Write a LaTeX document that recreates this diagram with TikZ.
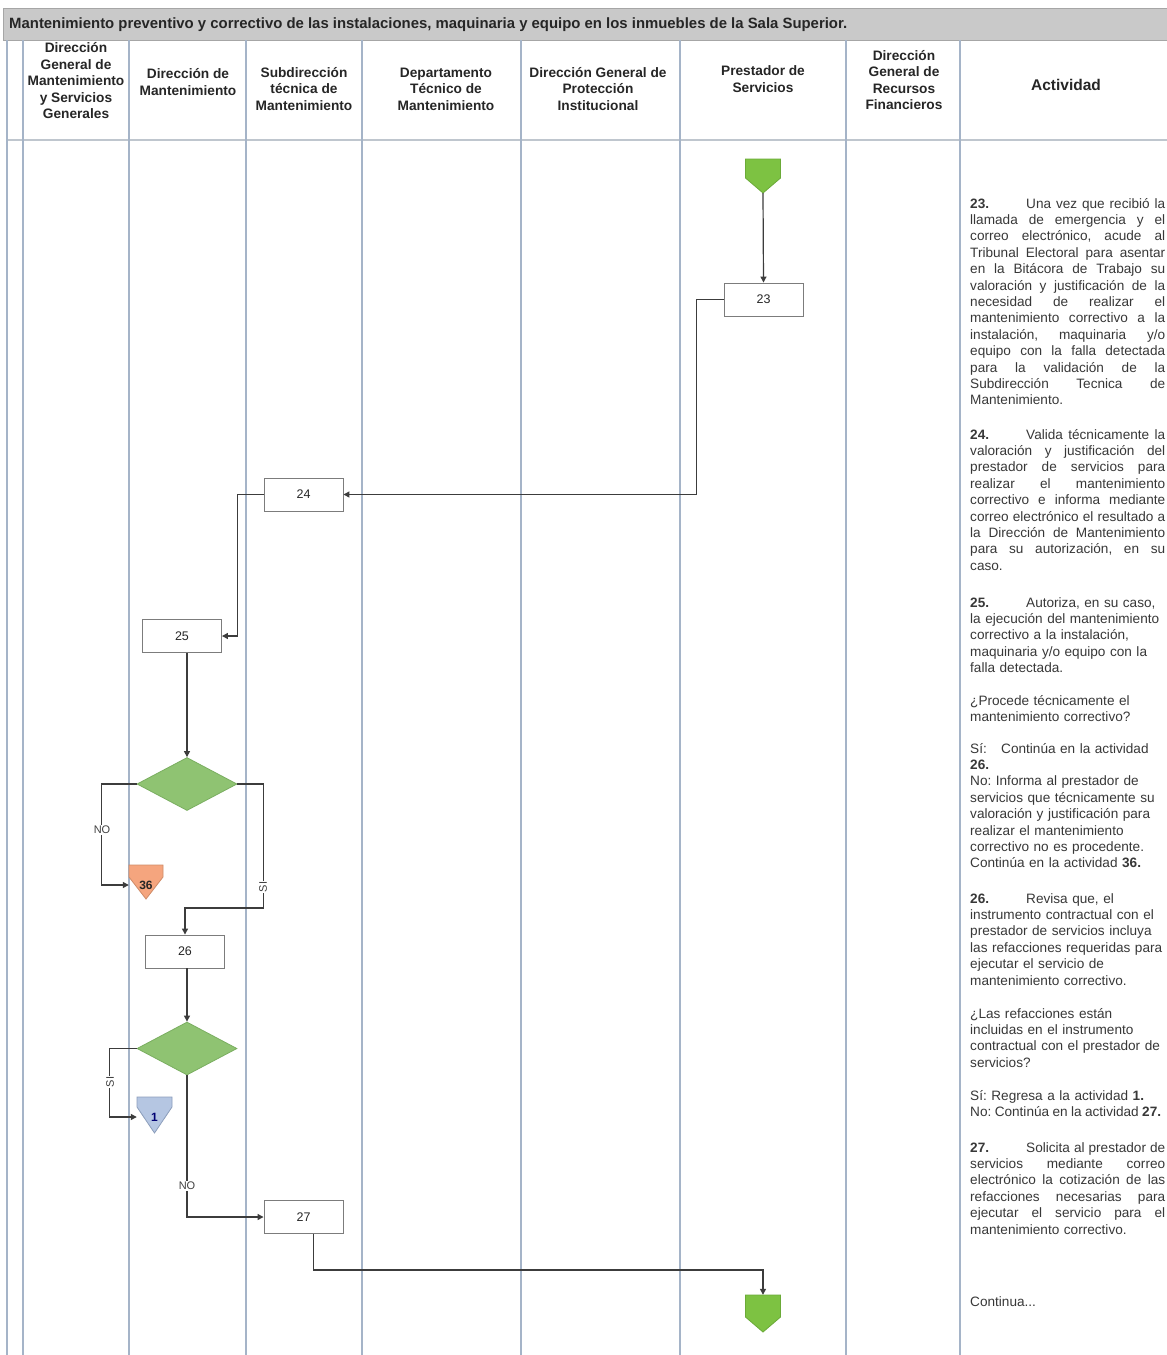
\documentclass[tikz,border=0pt]{standalone}
\usepackage{fontspec}
\setmainfont{Liberation Sans}
\usetikzlibrary{shapes.geometric,arrows.meta,calc}

\definecolor{laneblue}{HTML}{A5B4C8}
\definecolor{headsep}{HTML}{BFC6CE}
\definecolor{titlegray}{HTML}{C9C9C9}
\definecolor{boxgray}{HTML}{7C7C7C}
\definecolor{linegray}{HTML}{3C3C3C}
\definecolor{diagreen}{HTML}{8FC372}
\definecolor{diaborder}{HTML}{7AAE60}
\definecolor{pagegreen}{HTML}{7DC242}
\definecolor{pagegreenb}{HTML}{6BAA38}
\definecolor{pageorange}{HTML}{F5A57E}
\definecolor{pageorangeb}{HTML}{D08C68}
\definecolor{pageblue}{HTML}{B5C6E2}
\definecolor{pageblueb}{HTML}{8C9EBB}

% one justified line of the activity column: word spaces stretch to fill it
\newcommand\jl[1]{\makebox[195pt][s]{\spaceskip=0.278em plus 1fil\relax #1}}
% one line that must not wrap, with slightly tighter word spaces
\newcommand\tightline[1]{\mbox{\spaceskip=0.25em\relax #1}}
% activity number followed by its tab gap
\newcommand\actno[1]{\makebox[56pt][l]{\textbf{#1}}}

\begin{document}
\begin{tikzpicture}[x=1pt,y=-1pt,
  lane/.style={draw=laneblue,line width=1.4pt},
  stepbox/.style={draw=boxgray,fill=white,line width=0.9pt,minimum width=79pt,
    minimum height=33pt,inner sep=0pt,font=\fontsize{12.5}{14}\selectfont,text=black!85},
  decision/.style={diamond,draw=diaborder,fill=diagreen,line width=0.8pt,
    minimum width=100pt,minimum height=53pt,inner sep=0pt},
  flow/.style={draw=linegray,line width=1.2pt,-{Triangle[length=6pt,width=6pt]}},
  edgelabel/.style={fill=white,inner sep=1pt,font=\fontsize{11}{12}\selectfont,text=black!75},
  head/.style={align=center,font=\bfseries\fontsize{13.7}{16.5}\selectfont,text=black!85},
  act/.style={anchor=base west,text width=195pt,align=left,inner sep=0pt,
    font=\fontsize{13.6}{16.4}\selectfont\frenchspacing,text=black!78},
  conn/.style={inner sep=0pt,font=\bfseries\fontsize{12}{14}\selectfont}
]
\useasboundingbox (0,0) rectangle (1167,1355);
\fill[white] (0,0) rectangle (1167,1355);

% title bar
\filldraw[fill=titlegray,draw=gray!70,line width=0.8pt] (3,8) rectangle (1167,40);
\node[anchor=west,inner sep=0pt,font=\bfseries\fontsize{14.9}{16}\selectfont,text=black!85] (title) at (9,25)
  {Mantenimiento preventivo y correctivo de las instalaciones, maquinaria y equipo en los inmuebles de la Sala Superior.};

% swimlane grid
\draw[headsep,line width=2.5pt] (7,140) -- (1167,140);
\foreach \lx in {7,23,129,246,362,521,680,846,960}
  \draw[lane] (\lx,40) -- (\lx,1355);

% lane headings
\node[head] (h1) at (76,81) {Dirección\\General de\\Mantenimiento\\y Servicios\\Generales};
\node[head] (h2) at (188,82) {Dirección de\\Mantenimiento};
\node[head] (h3) at (304,89) {Subdirección\\técnica de\\Mantenimiento};
\node[head] (h4) at (446,89) {Departamento\\Técnico de\\Mantenimiento};
\node[head] (h5) at (598,89) {Dirección General de\\Protección\\Institucional};
\node[head] (h6) at (763,79) {Prestador de\\Servicios};
\node[head] (h7) at (904,80) {Dirección\\General de\\Recursos\\Financieros};
\node[head,font=\bfseries\fontsize{15.5}{18}\selectfont] (h8) at (1066,85) {Actividad};

% off-page connectors
\coordinate (s0) at (763,176);
\filldraw[fill=pagegreen,draw=pagegreenb,line width=0.8pt,shift={(s0)}]
  (-17.5,-17) -- (17.5,-17) -- (17.5,2) -- (0,17) -- (-17.5,2) -- cycle;
\node[conn,minimum width=35pt,minimum height=34pt] (start) at (s0) {};

\coordinate (e0) at (763,1313.5);
\filldraw[fill=pagegreen,draw=pagegreenb,line width=0.8pt,shift={(e0)}]
  (-17.5,-18.5) -- (17.5,-18.5) -- (17.5,3.5) -- (0,18.5) -- (-17.5,3.5) -- cycle;
\node[conn,minimum width=35pt,minimum height=37pt] (endc) at (e0) {};

\coordinate (p36) at (146,882);
\filldraw[fill=pageorange,draw=pageorangeb,line width=0.8pt,shift={(p36)}]
  (-17,-17) -- (17,-17) -- (17,-5) -- (0,17) -- (-17,-5) -- cycle;
\node[conn,minimum width=34pt,minimum height=34pt,text=black!85] (c36) at ([yshift=-3pt]p36) {36};

\coordinate (p1) at (154.5,1115);
\filldraw[fill=pageblue,draw=pageblueb,line width=0.8pt,shift={(p1)}]
  (-17.5,-18) -- (17.5,-18) -- (17.5,-8) -- (0,18) -- (-17.5,-8) -- cycle;
\node[conn,minimum width=35pt,minimum height=36pt,text=blue!45!black] (c1) at ([yshift=-2pt]p1) {1};

% activities and decisions
\node[stepbox] (b23) at (763.5,299.5) {23};
\node[stepbox] (b24) at (303.5,494.5) {24};
\node[stepbox] (b25) at (182,636) {25};
\node[decision] (d1) at (187,784) {};
\node[stepbox] (b26) at (185,951.5) {26};
\node[decision] (d2) at (187,1048.5) {};
\node[stepbox] (b27) at (303.5,1217) {27};

% flow
\draw[flow] (start.south) -- (b23.north);
\draw[flow] (b23.west) -- ++(-27,0) |- (b24.east);
\draw[flow] (b24.west) -- ++(-26,0) |- (b25.east);
\draw[flow] (d1.north |- b25.south) -- (d1.north);
\draw[flow] (d1.west) -- ++(-35,0) |- (c36.west);
\draw[flow] (d1.east) -- ++(26,0) -- ++(0,124) -| (b26.north);
\draw[flow] (d2.north |- b26.south) -- (d2.north);
\draw[flow] (d2.west) -- ++(-27,0) |- (c1.west);
\draw[flow] (d2.south) |- (b27.west);
\draw[flow] ([xshift=10pt]b27.south) -- ++(0,36) -| (endc.north);

% branch labels
\node[edgelabel] (no1) at (102,830) {NO};
\node[edgelabel,rotate=90] (si1) at (263,887) {SI};
\node[edgelabel,rotate=90] (si2) at (110,1082) {SI};
\node[edgelabel] (no2) at (187,1186) {NO};

% activity descriptions
\node[act] (t23) at (970,208) {%
\jl{\actno{23.}Una vez que recibió la}\\
\jl{llamada de emergencia y el}\\
\jl{correo electrónico, acude al}\\
\jl{Tribunal Electoral para asentar}\\
\jl{en la Bitácora de Trabajo su}\\
\jl{valoración y justificación de la}\\
\jl{necesidad de realizar el}\\
\jl{mantenimiento correctivo a la}\\
\jl{instalación, maquinaria y/o}\\
\jl{equipo con la falla detectada}\\
\jl{para la validación de la}\\
\jl{Subdirección Tecnica de}\\
Mantenimiento.};

\node[act] (t24) at (970,439) {%
\jl{\actno{24.}Valida técnicamente la}\\
\jl{valoración y justificación del}\\
\jl{prestador de servicios para}\\
\jl{realizar el mantenimiento}\\
\jl{correctivo e informa mediante}\\
\jl{correo electrónico el resultado a}\\
\jl{la Dirección de Mantenimiento}\\
\jl{para su autorización, en su}\\
caso.};

\node[act] (t25) at (970,607) {%
\actno{25.}Autoriza, en su caso,\\
la ejecución del mantenimiento\\
correctivo a la instalación,\\
maquinaria y/o equipo con la\\
falla detectada.};

\node[act] (q1) at (970,705) {¿Procede técnicamente el\\mantenimiento correctivo?};

\node[act] (r1) at (970,753) {%
\makebox[31pt][l]{Sí:}Continúa en la actividad\\
\textbf{26.}\\
No: Informa al prestador de\\
servicios que técnicamente su\\
valoración y justificación para\\
realizar el mantenimiento\\
correctivo no es procedente.\\
Continúa en la actividad \textbf{36.}};

\node[act] (t26) at (970,903) {%
\actno{26.}Revisa que, el\\
instrumento contractual con el\\
prestador de servicios incluya\\
las refacciones requeridas para\\
ejecutar el servicio de\\
mantenimiento correctivo.};

\node[act] (q2) at (970,1018) {%
¿Las refacciones están\\
incluidas en el instrumento\\
contractual con el prestador de\\
servicios?};

\node[act] (r2) at (970,1100) {%
Sí: Regresa a la actividad \textbf{1.}\\
\tightline{No: Continúa en la actividad \textbf{27.}}};

\node[act] (t27) at (970,1152) {%
\jl{\actno{27.}Solicita al prestador de}\\
\jl{servicios mediante correo}\\
\jl{electrónico la cotización de las}\\
\jl{refacciones necesarias para}\\
\jl{ejecutar el servicio para el}\\
mantenimiento correctivo.};

\node[act] (cont) at (970,1306) {Continua...};
\end{tikzpicture}
\end{document}
